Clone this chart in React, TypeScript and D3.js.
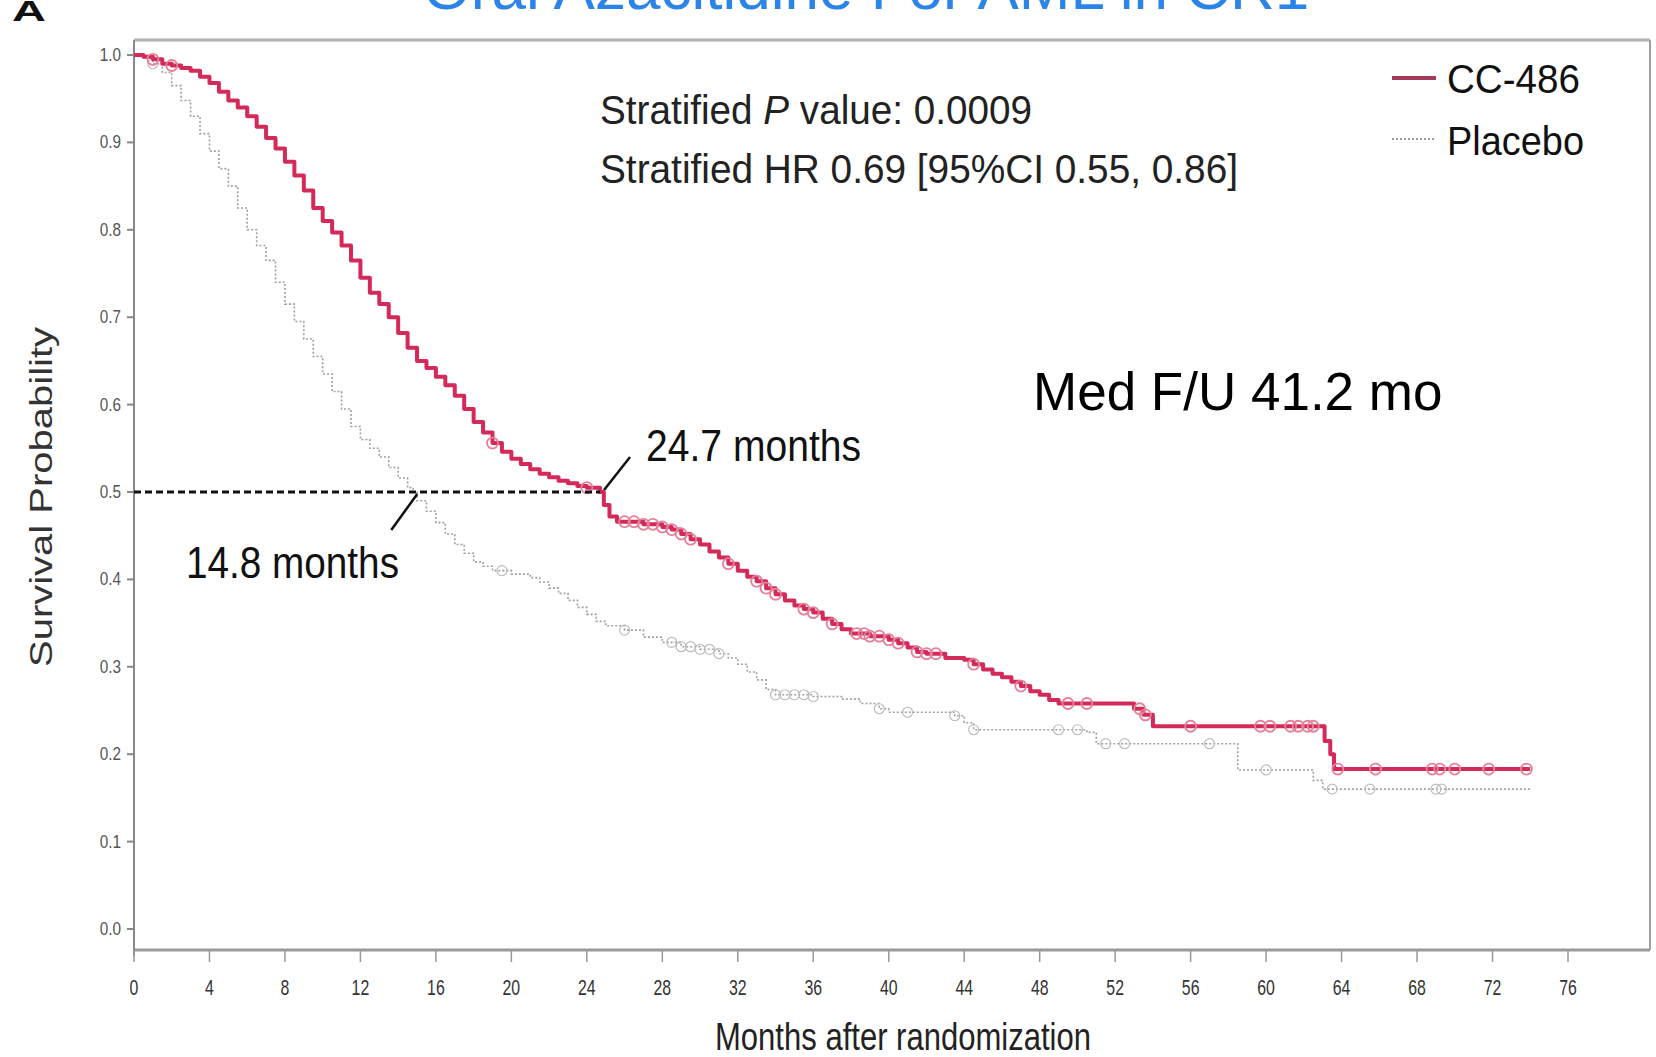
import React from 'react'
import * as d3 from 'd3'

// Kaplan-Meier knots: [month, survival]
const ccMonths = [0, 0.5, 1, 1.5, 2, 2.5, 3, 3.5, 4, 4.5, 5, 5.5, 6, 6.5, 7, 7.5, 8, 8.5, 9, 9.5, 10, 10.5, 11, 11.5, 12, 12.5, 13, 13.5, 14, 14.5, 15, 15.5, 16, 16.5, 17, 17.5, 18, 18.5, 19, 19.5, 20, 20.5, 21, 21.5, 22, 22.5, 23, 23.5, 24, 24.7, 24.9, 25.2, 25.6, 27, 28, 28.5, 29, 29.5, 30, 30.5, 31, 31.5, 32, 32.5, 33, 33.5, 34, 34.5, 35, 35.5, 36, 36.5, 37, 37.5, 38, 39, 40, 40.5, 41, 41.5, 42, 43, 44, 44.5, 45, 45.5, 46, 46.5, 47, 47.5, 48, 48.5, 49, 53, 53.5, 54, 63.1, 63.4, 63.6, 74]
const ccSurv = [1.0, 0.998, 0.995, 0.99, 0.988, 0.985, 0.982, 0.975, 0.968, 0.958, 0.948, 0.94, 0.93, 0.918, 0.905, 0.893, 0.878, 0.862, 0.845, 0.825, 0.81, 0.797, 0.782, 0.765, 0.745, 0.728, 0.715, 0.7, 0.682, 0.665, 0.65, 0.642, 0.632, 0.622, 0.61, 0.595, 0.58, 0.568, 0.556, 0.546, 0.538, 0.532, 0.526, 0.521, 0.517, 0.513, 0.51, 0.507, 0.505, 0.5, 0.485, 0.472, 0.466, 0.463, 0.46, 0.457, 0.452, 0.446, 0.44, 0.432, 0.425, 0.418, 0.41, 0.403, 0.398, 0.39, 0.383, 0.376, 0.37, 0.366, 0.362, 0.355, 0.349, 0.343, 0.338, 0.335, 0.331, 0.327, 0.322, 0.317, 0.315, 0.31, 0.308, 0.303, 0.297, 0.292, 0.288, 0.283, 0.278, 0.272, 0.268, 0.262, 0.258, 0.252, 0.245, 0.232, 0.215, 0.2, 0.183, 0.183]
const ccCensor = [1, 2, 19, 24, 26, 26.5, 27, 27.5, 28, 28.5, 29, 29.5, 31.5, 33, 33.5, 34, 35.5, 36, 37, 38.3, 38.7, 39, 39.5, 40, 40.5, 41.5, 42, 42.5, 44.5, 47, 49.5, 50.5, 53.3, 53.6, 56, 59.7, 60.2, 61.3, 61.7, 62.2, 62.5, 63.8, 65.8, 68.8, 69.2, 70, 71.8, 73.8]

const pbMonths = [0, 0.5, 1, 1.5, 2, 2.5, 3, 3.5, 4, 4.5, 5, 5.5, 6, 6.5, 7, 7.5, 8, 8.5, 9, 9.5, 10, 10.5, 11, 11.5, 12, 12.5, 13, 13.5, 14, 14.5, 14.8, 15, 15.5, 16, 16.5, 17, 17.5, 18, 18.5, 19, 20, 21, 21.5, 22, 22.5, 23, 23.5, 24, 24.5, 25, 26, 27, 28, 29, 30, 31, 31.5, 32, 32.5, 33, 33.5, 34, 36, 37.5, 38.5, 39.5, 40, 43.5, 44, 44.5, 50.5, 51, 58.5, 62.5, 63, 74]
const pbSurv = [1.0, 0.997, 0.99, 0.98, 0.965, 0.948, 0.93, 0.91, 0.89, 0.87, 0.85, 0.825, 0.8, 0.782, 0.765, 0.74, 0.715, 0.695, 0.675, 0.655, 0.635, 0.615, 0.595, 0.575, 0.56, 0.55, 0.54, 0.528, 0.516, 0.505, 0.5, 0.49, 0.478, 0.465, 0.452, 0.44, 0.43, 0.42, 0.415, 0.41, 0.406, 0.402, 0.397, 0.39, 0.384, 0.376, 0.368, 0.36, 0.352, 0.347, 0.342, 0.334, 0.328, 0.323, 0.32, 0.315, 0.31, 0.303, 0.294, 0.285, 0.274, 0.268, 0.266, 0.263, 0.258, 0.252, 0.248, 0.244, 0.236, 0.228, 0.225, 0.212, 0.182, 0.17, 0.16, 0.16]
const pbCensor = [1, 19.5, 26, 28.5, 29, 29.5, 30, 30.5, 31, 34, 34.5, 35, 35.5, 36, 39.5, 41, 43.5, 44.5, 49, 50, 51.5, 52.5, 57, 60, 63.5, 65.5, 69, 69.3]

const xTicks = d3.range(0, 77, 4)
const yTicks = d3.range(0, 11).map(d => d / 10)

const medians = [14.8, 24.7]

const ccColor = '#d42a5a'
const ccCensorColor = '#e6809a'
const pbColor = '#a0a0a0'

function survivalAt(months: number[], surv: number[], t: number) {
  let s = surv[0]
  for (let i = 0; i < months.length; i++) {
    if (months[i] <= t) s = surv[i]
  }
  return s
}

export default function App() {
  const x = d3.scaleLinear().domain([0, 76]).range([134, 1568])
  const y = d3.scaleLinear().domain([0, 1]).range([929, 55])

  const line = d3
    .line<[number, number]>()
    .x(d => x(d[0]))
    .y(d => y(d[1]))
    .curve(d3.curveStepAfter)

  const ccPts = ccMonths.map((m, i) => [m, ccSurv[i]] as [number, number])
  const pbPts = pbMonths.map((m, i) => [m, pbSurv[i]] as [number, number])

  const frame = { left: 134, right: 1650, top: 40, bottom: 950 }
  const font = 'Liberation Sans, Arial, sans-serif'

  return (
    <svg
      width={1656}
      height={1057}
      style={{ position: 'absolute', left: 0, top: 0, background: '#fff' }}
      fontFamily={font}
    >
      {/* cut off header */}
      <text x={866} y={9} fontSize={62} fill="#2b84e8" textAnchor="middle">
        Oral Azacitidine For AML in CR1
      </text>
      <text x={12} y={21} fontSize={30} fontWeight="bold" fill="#111" textLength={34} lengthAdjust="spacingAndGlyphs">
        A
      </text>

      {/* frame */}
      <line x1={frame.left} x2={frame.right} y1={frame.top} y2={frame.top} stroke="#b0b0b0" strokeWidth={3} />
      <line x1={frame.right} x2={frame.right} y1={frame.top} y2={frame.bottom} stroke="#a0a0a0" strokeWidth={2} />
      <line x1={frame.left} x2={frame.right} y1={frame.bottom} y2={frame.bottom} stroke="#9a9a9a" strokeWidth={3} />
      <line x1={frame.left} x2={frame.left} y1={frame.top} y2={frame.bottom + 6} stroke="#8a8a8a" strokeWidth={2} />

      {/* y axis */}
      {yTicks.map(t => (
        <g key={'y' + t}>
          <line x1={127} x2={134} y1={y(t)} y2={y(t)} stroke="#888" strokeWidth={2} />
          <text
            transform={`translate(121,${y(t) + 6}) scale(0.85,1)`}
            fontSize={18}
            fill="#555"
            textAnchor="end"
          >
            {t.toFixed(1)}
          </text>
        </g>
      ))}
      <text
        transform="translate(52,497) rotate(-90)"
        fontSize={32}
        fill="#333"
        textAnchor="middle"
        textLength={340}
        lengthAdjust="spacingAndGlyphs"
      >
        Survival Probability
      </text>

      {/* x axis */}
      {xTicks.map(t => (
        <g key={'x' + t}>
          <line x1={x(t)} x2={x(t)} y1={frame.bottom} y2={frame.bottom + 12} stroke="#999" strokeWidth={1.5} />
          <text
            transform={`translate(${x(t)},995) scale(0.72,1)`}
            fontSize={22}
            fill="#333"
            textAnchor="middle"
          >
            {t}
          </text>
        </g>
      ))}
      <text x={715} y={1050} fontSize={38} fill="#222" textLength={376} lengthAdjust="spacingAndGlyphs">
        Months after randomization
      </text>

      {/* curves */}
      <path d={line(pbPts) || ''} fill="none" stroke={pbColor} strokeWidth={1.6} strokeDasharray="2,2" />
      {pbCensor.map((t, i) => (
        <circle key={'pc' + i} cx={x(t)} cy={y(survivalAt(pbMonths, pbSurv, t))} r={5} fill="none" stroke="#bdbdbd" strokeWidth={1.2} />
      ))}
      <path d={line(ccPts) || ''} fill="none" stroke={ccColor} strokeWidth={4} strokeLinejoin="round" />
      {ccCensor.map((t, i) => (
        <circle key={'cc' + i} cx={x(t)} cy={y(survivalAt(ccMonths, ccSurv, t))} r={5.5} fill="none" stroke={ccCensorColor} strokeWidth={1.8} />
      ))}

      {/* median line */}
      <line
        x1={x(0)}
        x2={x(medians[1])}
        y1={y(0.5)}
        y2={y(0.5)}
        stroke="#111"
        strokeWidth={3}
        strokeDasharray="7,4"
      />
      <line x1={x(medians[1]) + 4} y1={y(0.5) - 2} x2={x(medians[1]) + 30} y2={y(0.5) - 35} stroke="#111" strokeWidth={2.5} />
      <line x1={x(medians[0]) + 4} y1={y(0.5) + 2} x2={x(medians[0]) - 22} y2={y(0.5) + 38} stroke="#111" strokeWidth={2.5} />
      <text x={646} y={461} fontSize={44} fill="#111" textLength={215} lengthAdjust="spacingAndGlyphs">
        {medians[1]} months
      </text>
      <text x={186} y={578} fontSize={44} fill="#111" textLength={213} lengthAdjust="spacingAndGlyphs">
        {medians[0]} months
      </text>

      {/* stats */}
      <text x={600} y={124} fontSize={40} fill="#222" textLength={432} lengthAdjust="spacingAndGlyphs">
        Stratified <tspan fontStyle="italic">P</tspan> value: 0.0009
      </text>
      <text x={600} y={183} fontSize={40} fill="#222" textLength={638} lengthAdjust="spacingAndGlyphs">
        Stratified HR 0.69 [95%CI 0.55, 0.86]
      </text>

      {/* legend */}
      <line x1={1392} x2={1436} y1={78} y2={78} stroke="#a23a58" strokeWidth={4} />
      <text x={1447} y={93} fontSize={40} fill="#111" textLength={133} lengthAdjust="spacingAndGlyphs">
        CC-486
      </text>
      <line x1={1392} x2={1434} y1={139} y2={139} stroke="#999" strokeWidth={2} strokeDasharray="2,2" />
      <text x={1447} y={155} fontSize={40} fill="#111" textLength={137} lengthAdjust="spacingAndGlyphs">
        Placebo
      </text>

      <text x={1033} y={410} fontSize={53} fill="#000" fontFamily="Arial, Liberation Sans, sans-serif">
        Med F/U 41.2 mo
      </text>
    </svg>
  )
}
